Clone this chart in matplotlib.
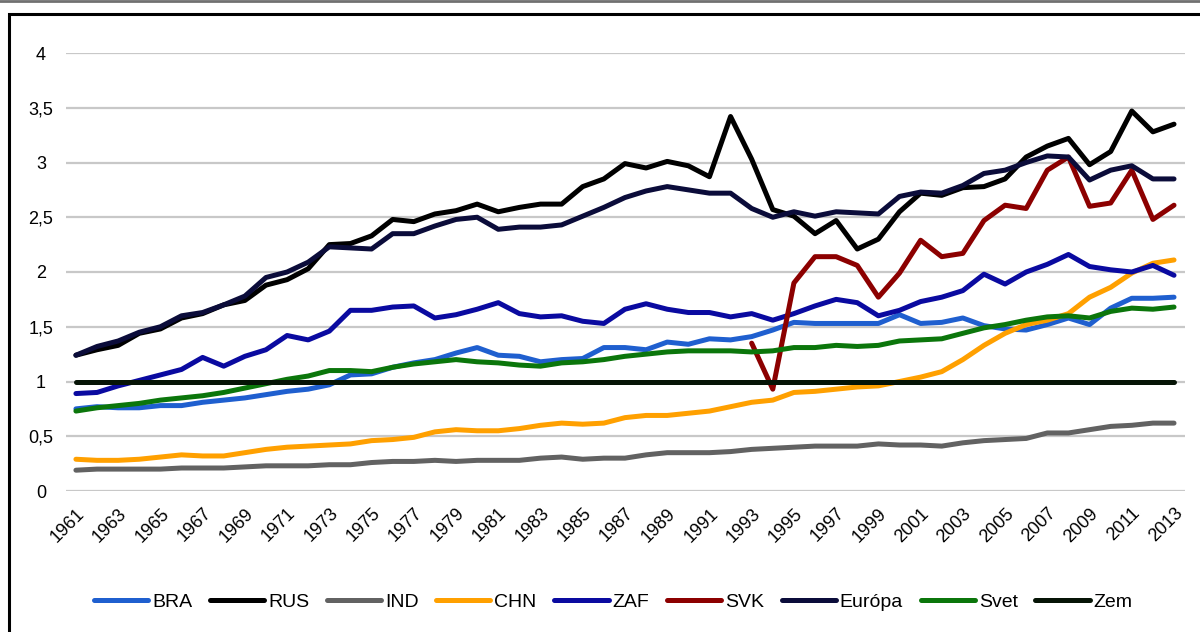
import matplotlib
matplotlib.use("Agg")
import matplotlib.pyplot as plt
from matplotlib.patches import Rectangle
from matplotlib.ticker import FuncFormatter

plt.rcParams['font.family'] = ['Liberation Sans', 'DejaVu Sans']

years = list(range(1961, 2014))

bra = [0.75, 0.77, 0.76, 0.76, 0.78, 0.78, 0.81, 0.83, 0.85, 0.88,
       0.91, 0.93, 0.97, 1.06, 1.07, 1.13, 1.17, 1.20, 1.26, 1.31,
       1.24, 1.23, 1.18, 1.20, 1.21, 1.31, 1.31, 1.29, 1.36, 1.34,
       1.39, 1.38, 1.41, 1.47, 1.54, 1.53, 1.53, 1.53, 1.53, 1.61,
       1.53, 1.54, 1.58, 1.51, 1.48, 1.47, 1.52, 1.58, 1.52, 1.67,
       1.76, 1.76, 1.77]
rus = [1.24, 1.29, 1.33, 1.44, 1.48, 1.58, 1.62, 1.70, 1.74, 1.88,
       1.93, 2.03, 2.25, 2.26, 2.33, 2.48, 2.46, 2.53, 2.56, 2.62,
       2.55, 2.59, 2.62, 2.62, 2.78, 2.85, 2.99, 2.95, 3.01, 2.97,
       2.87, 3.42, 3.03, 2.57, 2.51, 2.35, 2.47, 2.21, 2.30, 2.55,
       2.72, 2.70, 2.77, 2.78, 2.85, 3.05, 3.15, 3.22, 2.98, 3.10,
       3.47, 3.28, 3.35]
ind = [0.19, 0.20, 0.20, 0.20, 0.20, 0.21, 0.21, 0.21, 0.22, 0.23,
       0.23, 0.23, 0.24, 0.24, 0.26, 0.27, 0.27, 0.28, 0.27, 0.28,
       0.28, 0.28, 0.30, 0.31, 0.29, 0.30, 0.30, 0.33, 0.35, 0.35,
       0.35, 0.36, 0.38, 0.39, 0.40, 0.41, 0.41, 0.41, 0.43, 0.42,
       0.42, 0.41, 0.44, 0.46, 0.47, 0.48, 0.53, 0.53, 0.56, 0.59,
       0.60, 0.62, 0.62]
chn = [0.29, 0.28, 0.28, 0.29, 0.31, 0.33, 0.32, 0.32, 0.35, 0.38,
       0.40, 0.41, 0.42, 0.43, 0.46, 0.47, 0.49, 0.54, 0.56, 0.55,
       0.55, 0.57, 0.60, 0.62, 0.61, 0.62, 0.67, 0.69, 0.69, 0.71,
       0.73, 0.77, 0.81, 0.83, 0.90, 0.91, 0.93, 0.95, 0.96, 1.00,
       1.04, 1.09, 1.20, 1.33, 1.44, 1.52, 1.56, 1.62, 1.77, 1.86,
       1.99, 2.08, 2.11]
zaf = [0.89, 0.90, 0.96, 1.01, 1.06, 1.11, 1.22, 1.14, 1.23, 1.29,
       1.42, 1.38, 1.46, 1.65, 1.65, 1.68, 1.69, 1.58, 1.61, 1.66,
       1.72, 1.62, 1.59, 1.60, 1.55, 1.53, 1.66, 1.71, 1.66, 1.63,
       1.63, 1.59, 1.62, 1.56, 1.62, 1.69, 1.75, 1.72, 1.60, 1.65,
       1.73, 1.77, 1.83, 1.98, 1.89, 2.00, 2.07, 2.16, 2.05, 2.02,
       2.00, 2.06, 1.97]
svk_years = list(range(1993, 2014))
svk = [1.35, 0.93, 1.90, 2.14, 2.14, 2.06, 1.77, 1.99, 2.29, 2.14,
       2.17, 2.47, 2.61, 2.58, 2.93, 3.05, 2.60, 2.63, 2.93, 2.48,
       2.61]
europa = [1.24, 1.32, 1.37, 1.45, 1.50, 1.60, 1.63, 1.70, 1.78, 1.95,
          2.00, 2.09, 2.23, 2.22, 2.21, 2.35, 2.35, 2.42, 2.48, 2.50,
          2.39, 2.41, 2.41, 2.43, 2.51, 2.59, 2.68, 2.74, 2.78, 2.75,
          2.72, 2.72, 2.58, 2.50, 2.55, 2.51, 2.55, 2.54, 2.53, 2.69,
          2.73, 2.72, 2.79, 2.90, 2.93, 3.00, 3.06, 3.05, 2.84, 2.93,
          2.97, 2.85, 2.85]
svet = [0.73, 0.76, 0.78, 0.80, 0.83, 0.85, 0.87, 0.90, 0.94, 0.98,
        1.02, 1.05, 1.10, 1.10, 1.09, 1.13, 1.16, 1.18, 1.20, 1.18,
        1.17, 1.15, 1.14, 1.17, 1.18, 1.20, 1.23, 1.25, 1.27, 1.28,
        1.28, 1.28, 1.27, 1.28, 1.31, 1.31, 1.33, 1.32, 1.33, 1.37,
        1.38, 1.39, 1.44, 1.49, 1.52, 1.56, 1.59, 1.60, 1.58, 1.64,
        1.67, 1.66, 1.68]
zem = [1.0] * len(years)

series = [
    ("BRA", years, bra, "#1f5fcf"),
    ("RUS", years, rus, "#000000"),
    ("IND", years, ind, "#626262"),
    ("CHN", years, chn, "#ffa000"),
    ("ZAF", years, zaf, "#0a0aa0"),
    ("SVK", svk_years, svk, "#8c0000"),
    ("Európa", years, europa, "#0b0c3a"),
    ("Svet", years, svet, "#0b760b"),
    ("Zem", years, zem, "#061406"),
]

fig = plt.figure(figsize=(12, 6.32), dpi=100)
ax = fig.add_axes([66 / 1200, 1 - 491 / 632, (1185 - 66) / 1200, (491 - 53) / 632])

for name, xs, ys, col in series:
    ax.plot(xs, ys, color=col, lw=3.6, label=name, solid_capstyle='round',
            solid_joinstyle='round', clip_on=False)

ax.set_xlim(1960.53, 2013.52)
ax.set_ylim(0, 4)
ax.set_yticks([0, 0.5, 1, 1.5, 2, 2.5, 3, 3.5, 4])
ax.yaxis.set_major_formatter(FuncFormatter(lambda v, p: ('%g' % v).replace('.', ',')))
ax.set_xticks(years[::2])
ax.set_xticklabels([str(y) for y in years[::2]], rotation=45, ha='right',
                   rotation_mode='anchor', fontsize=13)
ax.tick_params(axis='x', length=0, pad=10)
ax.tick_params(axis='y', length=0, pad=18, labelsize=13)
for lab in ax.get_yticklabels():
    lab.set_horizontalalignment('center')

ax.grid(axis='y', color='#c8c8c8', lw=1.6)
ax.set_axisbelow(True)
for s in ax.spines.values():
    s.set_visible(False)

fig.legend(loc='center', bbox_to_anchor=(0.511, 1 - 602 / 632), ncol=9, frameon=False,
           fontsize=14, handlelength=2.8, handletextpad=0.2, columnspacing=0.9)

# chart frame
fig.patches.append(Rectangle((9 / 1200, -0.05), 1.2, 1 - 14 / 632 + 0.05,
                             transform=fig.transFigure, fill=False, ec='black', lw=2.2))
fig.add_artist(plt.Line2D([0, 1], [1 - 1 / 632, 1 - 1 / 632], transform=fig.transFigure,
                          color='#707070', lw=2))

fig.savefig('out.png', dpi=100)
